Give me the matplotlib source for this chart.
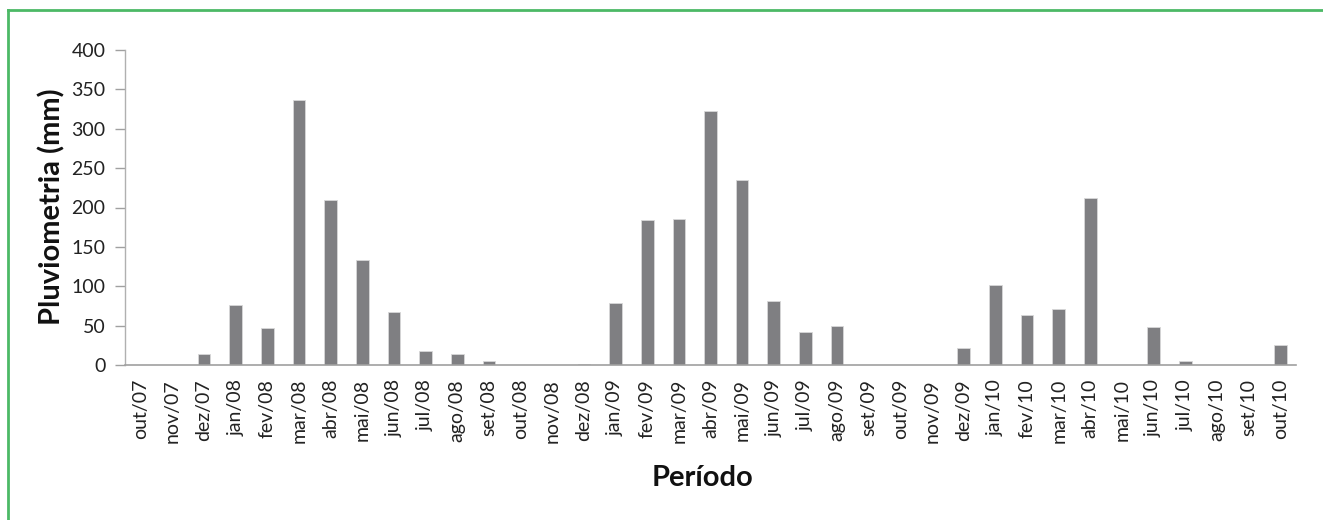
import matplotlib
matplotlib.use("Agg")
import matplotlib.pyplot as plt
from matplotlib.lines import Line2D

# monthly rainfall, out/07 to out/10
meses = ["out/07", "nov/07", "dez/07",
         "jan/08", "fev/08", "mar/08", "abr/08", "mai/08", "jun/08",
         "jul/08", "ago/08", "set/08", "out/08", "nov/08", "dez/08",
         "jan/09", "fev/09", "mar/09", "abr/09", "mai/09", "jun/09",
         "jul/09", "ago/09", "set/09", "out/09", "nov/09", "dez/09",
         "jan/10", "fev/10", "mar/10", "abr/10", "mai/10", "jun/10",
         "jul/10", "ago/10", "set/10", "out/10"]
chuva = [0, 0, 14,
         76, 47, 336, 210, 133, 67,
         18, 14, 5, 0, 0, 1.3,
         79, 184, 186, 323, 235, 81,
         42, 49, 0, 0, 0, 22,
         102, 63, 71, 212, 0, 48,
         5, 0, 0, 25]
y_ticks = [0, 50, 100, 150, 200, 250, 300, 350, 400]

plt.rcParams["font.family"] = ["Lato", "DejaVu Sans"]

fig = plt.figure(figsize=(13.23, 5.2), dpi=100)
ax = fig.add_axes([125 / 1323, 1 - 365 / 520, (1296 - 125) / 1323, 315 / 520])

x = list(range(len(meses)))
ax.bar(x, chuva, width=0.4, color="#7f7f82", edgecolor="#d8d8d8", linewidth=0.6, zorder=2)

ax.set_xlim(-0.5, len(meses) - 0.5)
ax.set_ylim(0, 400)
ax.set_yticks(y_ticks)
ax.set_yticklabels([str(v) for v in y_ticks], fontsize=14, color="#222222")
ax.set_xticks(x)
ax.set_xticklabels(meses, rotation=90, fontsize=14, color="#222222")
ax.tick_params(axis="x", length=0, pad=10)
ax.tick_params(axis="y", length=7, width=1, color="#a0a0a0", direction="out", pad=7)

for s in ["top", "right"]:
    ax.spines[s].set_visible(False)
ax.spines["left"].set_color("#b0b0b0")
ax.spines["bottom"].set_color("#a0a0a0")
ax.spines["left"].set_linewidth(1)
ax.spines["bottom"].set_linewidth(1.2)

fig.text(52 / 1323, 1 - 207 / 520, "Pluviometria (mm)", rotation=90, fontsize=21,
         fontweight="bold", ha="center", va="center", color="#111111")
fig.text(702 / 1323, 1 - 478 / 520, "Período", fontsize=21, fontweight="bold",
         ha="center", va="center", color="#111111")

# green frame, top and left only
fig.add_artist(Line2D([8 / 1323, 8 / 1323], [0, 1 - 10 / 520], transform=fig.transFigure,
                      color="#4cb966", linewidth=2))
fig.add_artist(Line2D([8 / 1323, 1], [1 - 10 / 520, 1 - 10 / 520], transform=fig.transFigure,
                      color="#4cb966", linewidth=2))

fig.savefig("out.png", dpi=100)
